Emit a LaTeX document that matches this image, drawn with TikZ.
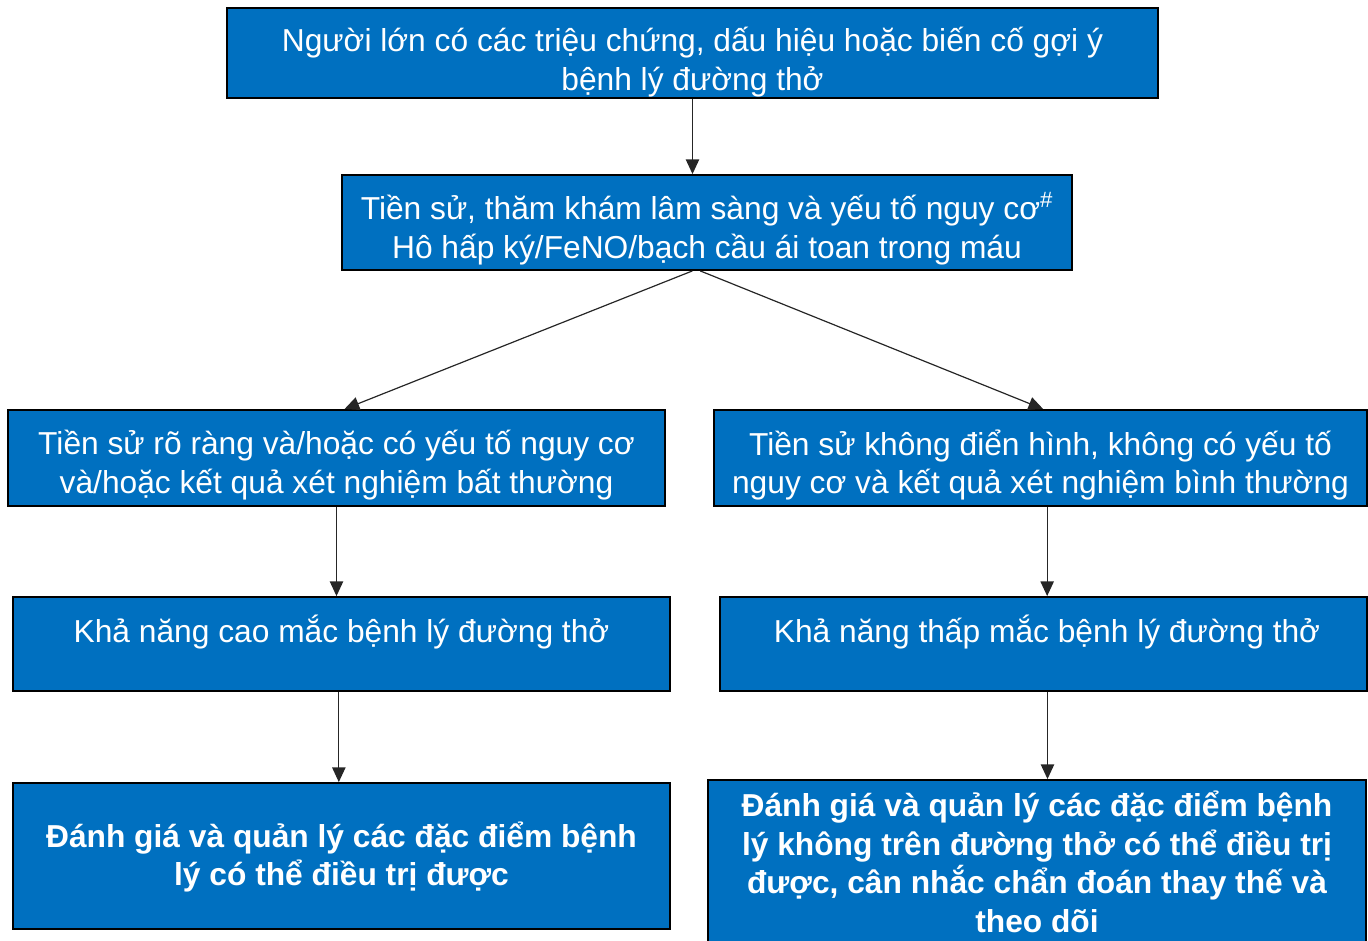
\documentclass[tikz,border=0pt]{standalone}
\usepackage{fontspec}
\setmainfont{Liberation Sans}
\usetikzlibrary{arrows.meta}
\definecolor{boxblue}{RGB}{0,112,192}
\begin{document}
\begin{tikzpicture}[x=0.75pt,y=-0.75pt,>={Triangle[width=10pt,length=11pt]},
  box/.style={draw=black,line width=1.4pt,fill=boxblue,inner sep=0pt},
  txt/.style={text=white,align=center,font=\fontsize{23.8}{29}\selectfont},
  arr/.style={->,line width=0.9pt,draw=black!85}]
  \useasboundingbox (0,0) rectangle (1368,940);
  % boxes
  \node[box,minimum width=931*0.75pt,minimum height=90*0.75pt] (b1) at (692.5,53) {};
  \node[box,minimum width=730*0.75pt,minimum height=95*0.75pt] (b2) at (707,222.5) {};
  \node[box,minimum width=657*0.75pt,minimum height=96*0.75pt] (b3l) at (336.5,458) {};
  \node[box,minimum width=653*0.75pt,minimum height=96*0.75pt] (b3r) at (1040.5,458) {};
  \node[box,minimum width=657*0.75pt,minimum height=94*0.75pt] (b4l) at (341.5,644) {};
  \node[box,minimum width=647*0.75pt,minimum height=94*0.75pt] (b4r) at (1043.5,644) {};
  \node[box,minimum width=657*0.75pt,minimum height=146*0.75pt] (b5l) at (341.5,856) {};
  \node[box,minimum width=658*0.75pt,minimum height=170*0.75pt] (b5r) at (1037,865) {};
  % texts
  \node[txt] (t1) at (692.5,62) {Người lớn có các triệu chứng, dấu hiệu hoặc biến cố gợi ý\\bệnh lý đường thở};
  \node[txt] (t2) at (707,229) {Tiền sử, thăm khám lâm sàng và yếu tố nguy cơ\textsuperscript{\#}\\Hô hấp ký/FeNO/bạch cầu ái toan trong máu};
  \node[txt] (t3l) at (336.5,465) {Tiền sử rõ ràng và/hoặc có yếu tố nguy cơ\\và/hoặc kết quả xét nghiệm bất thường};
  \node[txt] (t3r) at (1040.5,465) {Tiền sử không điển hình, không có yếu tố\\nguy cơ và kết quả xét nghiệm bình thường};
  \node[txt] (t4l) at (341.5,632) {Khả năng cao mắc bệnh lý đường thở};
  \node[txt] (t4r) at (1047,632) {Khả năng thấp mắc bệnh lý đường thở};
  \node[txt,font=\fontsize{23.8}{29}\selectfont\bfseries] (t5l) at (341.5,857) {Đánh giá và quản lý các đặc điểm bệnh\\lý có thể điều trị được};
  \node[txt,font=\fontsize{23.8}{29}\selectfont\bfseries] (t5r) at (1037,862) {Đánh giá và quản lý các đặc điểm bệnh\\lý không trên đường thở có thể điều trị\\được, cân nhắc chẩn đoán thay thế và\\theo dõi};
  % arrows
  \draw[arr] (b1.south) -- (b1.south |- b2.north);
  \draw[arr] ([xshift=-11pt]b2.south) -- ([xshift=6pt]b3l.north);
  \draw[arr] ([xshift=-5pt]b2.south) -- ([xshift=2pt]b3r.north);
  \draw[arr] (b3l.south) -- (b3l.south |- b4l.north);
  \draw[arr] ([xshift=5pt]b3r.south) -- ([xshift=5pt]b3r.south |- b4r.north);
  \draw[arr] ([xshift=-2pt]b4l.south) -- ([xshift=-2pt]b4l.south |- b5l.north);
  \draw[arr] ([xshift=3pt]b4r.south) -- ([xshift=3pt]b4r.south |- b5r.north);
\end{tikzpicture}
\end{document}
